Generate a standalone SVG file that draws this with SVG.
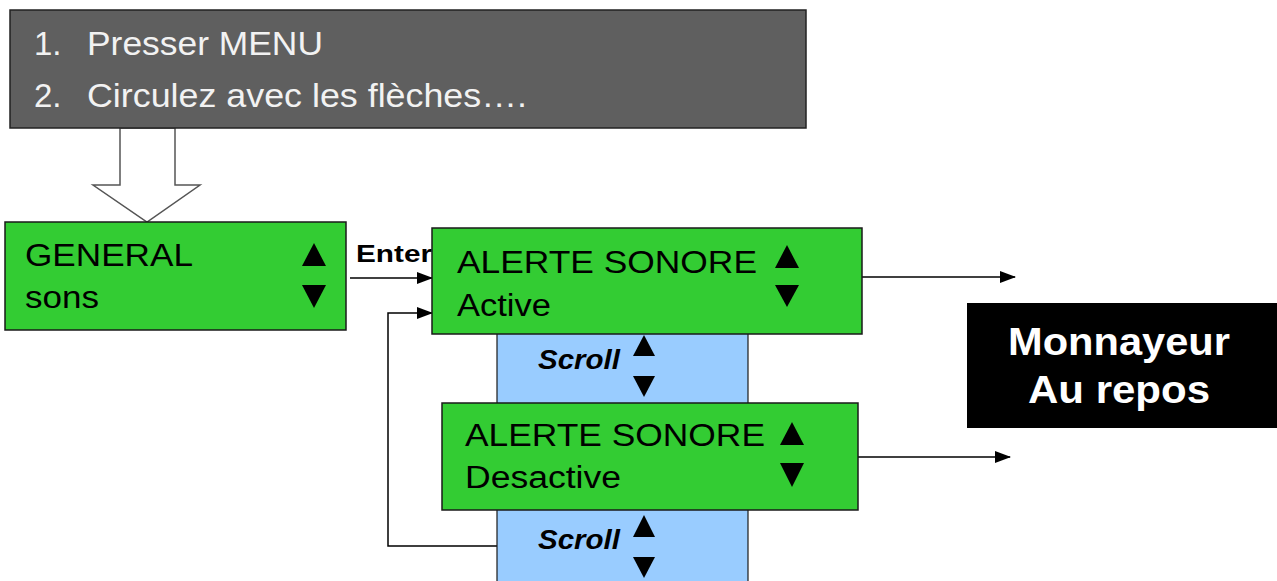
<svg xmlns="http://www.w3.org/2000/svg" width="1277" height="581" viewBox="0 0 1277 581">
<style>
.g{fill:#33cc33;stroke:#1a1a1a;stroke-width:1.5}
.b{fill:#99ccff;stroke:#1a1a1a;stroke-width:1.2}
.t{font-family:"Liberation Sans",Arial,sans-serif;font-size:31px;fill:#000}
.w{font-family:"Liberation Sans",Arial,sans-serif;font-size:33px;fill:#f2f2f2}
.sc{font-family:"Liberation Sans",Arial,sans-serif;font-size:27px;font-weight:bold;font-style:italic;fill:#000}
.c{fill:none;stroke:#000;stroke-width:1.5}
.tri{fill:#000}
</style>
<defs>
<marker id="ah" markerWidth="16" markerHeight="12" refX="15" refY="6" orient="auto" markerUnits="userSpaceOnUse">
<path d="M0,0 L16,6 L0,12 Z" fill="#000"/>
</marker>
</defs>
<g id="connectors">
<polygon points="120,128 175,128 175,185 200,185 147,222 93,185 120,185" fill="#fff" stroke="#555" stroke-width="1.5"/>
<text x="356" y="262" font-family="Liberation Sans,Arial,sans-serif" font-size="24" font-weight="bold" textLength="76" lengthAdjust="spacingAndGlyphs">Enter</text>
<line class="c" x1="350" y1="278" x2="432" y2="278" marker-end="url(#ah)"/>
<polyline class="c" points="497,546 388,546 388,313 432,313" marker-end="url(#ah)"/>
<line class="c" x1="862" y1="277" x2="1015" y2="277" marker-end="url(#ah)"/>
<line class="c" x1="858" y1="457" x2="1010" y2="457" marker-end="url(#ah)"/>
</g>
<g id="instructions">
<rect x="10" y="10" width="796" height="118" fill="#5f5f5f" stroke="#222" stroke-width="1.5"/>
<text class="w" x="34" y="55">1.</text>
<text class="w" x="87" y="55" textLength="236" lengthAdjust="spacingAndGlyphs">Presser MENU</text>
<text class="w" x="34" y="107">2.</text>
<text class="w" x="87" y="107" textLength="440" lengthAdjust="spacingAndGlyphs">Circulez avec les flèches….</text>
</g>
<g id="scroll2">
<rect class="b" x="497" y="505" width="251" height="80"/>
<text class="sc" x="538" y="549" textLength="82" lengthAdjust="spacingAndGlyphs">Scroll</text>
<polygon class="tri" points="644,515 655,537 633,537"/>
<polygon class="tri" points="633,557 655,557 644,578"/>
</g>
<g id="scroll1">
<rect class="b" x="497" y="330" width="251" height="78"/>
<text class="sc" x="538" y="369" textLength="82" lengthAdjust="spacingAndGlyphs">Scroll</text>
<polygon class="tri" points="644,335 655,356 633,356"/>
<polygon class="tri" points="633,376 655,376 644,397"/>
</g>
<g id="general">
<rect class="g" x="5" y="222" width="341" height="108"/>
<text class="t" x="25" y="266" textLength="168" lengthAdjust="spacingAndGlyphs">GENERAL</text>
<text class="t" x="25" y="308" textLength="74" lengthAdjust="spacingAndGlyphs">sons</text>
<polygon class="tri" points="314,243 326,266 302,266"/>
<polygon class="tri" points="302,285 326,285 314,308"/>
</g>
<g id="alerte-active">
<rect class="g" x="432" y="228" width="430" height="106"/>
<text class="t" x="457" y="273" textLength="300" lengthAdjust="spacingAndGlyphs">ALERTE SONORE</text>
<text class="t" x="457" y="316" textLength="94" lengthAdjust="spacingAndGlyphs">Active</text>
<polygon class="tri" points="787,245 799,268 775,268"/>
<polygon class="tri" points="775,285 799,285 787,307"/>
</g>
<g id="alerte-desactive">
<rect class="g" x="442" y="403" width="416" height="107"/>
<text class="t" x="465" y="446" textLength="300" lengthAdjust="spacingAndGlyphs">ALERTE SONORE</text>
<text class="t" x="465" y="488" textLength="156" lengthAdjust="spacingAndGlyphs">Desactive</text>
<polygon class="tri" points="792,422 804,445 780,445"/>
<polygon class="tri" points="780,463 804,463 792,487"/>
</g>
<g id="monnayeur">
<rect x="967" y="303" width="310" height="125" fill="#000"/>
<text x="1119" y="355" text-anchor="middle" font-family="Liberation Sans,Arial,sans-serif" font-size="38" font-weight="bold" fill="#fff" textLength="222" lengthAdjust="spacingAndGlyphs">Monnayeur</text>
<text x="1119" y="403" text-anchor="middle" font-family="Liberation Sans,Arial,sans-serif" font-size="38" font-weight="bold" fill="#fff" textLength="182" lengthAdjust="spacingAndGlyphs">Au repos</text>
</g>
</svg>
